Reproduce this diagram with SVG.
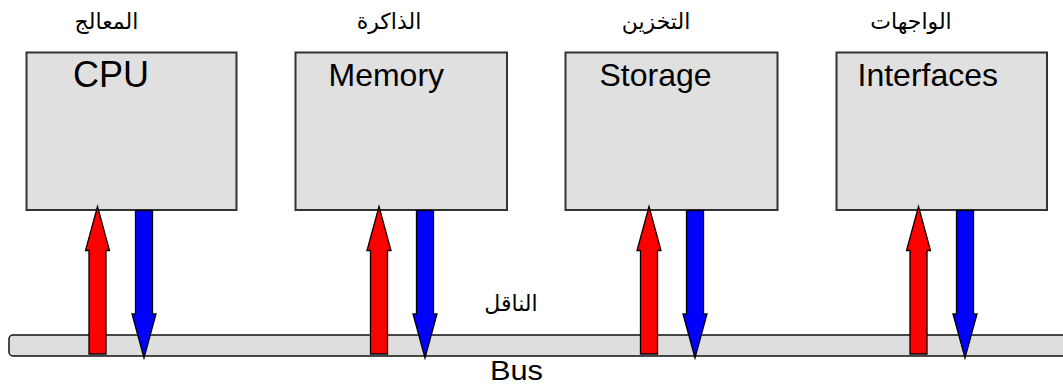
<svg xmlns="http://www.w3.org/2000/svg" xmlns:xlink="http://www.w3.org/1999/xlink" width="1063" height="387" viewBox="0 0 1063 387">
<style>
.box{fill:#e0e0e0;stroke:#333;stroke-width:2}
.bus{fill:#dedede;stroke:#111;stroke-width:1.5}
.up{fill:#ff0000;stroke:#000;stroke-width:1.3;stroke-linejoin:miter}
.down{fill:#0000ff;stroke:#000;stroke-width:1.3;stroke-linejoin:miter}
.en{font-family:"Liberation Sans",Arial,sans-serif;fill:#000}
.ar{font-family:"DejaVu Sans","Noto Sans",sans-serif;font-size:22px;fill:#000;text-anchor:middle}
</style>
<defs>
<path id="upArrow" d="M0,206.5 L12,250.5 L8.5,250.5 L8.5,354 L-8.5,354 L-8.5,250.5 L-12,250.5 Z"/>
<path id="downArrow" d="M-8.5,210.5 L8.5,210.5 L8.5,314 L12,314 L0,358 L-12,314 L-8.5,314 Z"/>
</defs>
<rect width="1063" height="387" fill="#fff"/>
<g id="bus">
<rect class="bus" x="9" y="335" width="1070" height="21" rx="4"/>
<text class="ar" x="511" y="311">الناقل</text>
<text class="en" x="490" y="380" font-size="28" textLength="53" lengthAdjust="spacingAndGlyphs">Bus</text>
</g>
<g id="cpu">
<rect class="box" x="26.5" y="52.5" width="210" height="157.5"/>
<text class="en" x="73" y="87" font-size="36">CPU</text>
<text class="ar" x="106.5" y="29">المعالج</text>
</g>
<g id="memory">
<rect class="box" x="295.5" y="52.5" width="211.5" height="157.5"/>
<text class="en" x="328.5" y="86" font-size="32">Memory</text>
<text class="ar" x="389" y="29">الذاكرة</text>
</g>
<g id="storage">
<rect class="box" x="565.5" y="52.5" width="212" height="157.5"/>
<text class="en" x="599.5" y="86" font-size="32">Storage</text>
<text class="ar" x="656" y="29">التخزين</text>
</g>
<g id="interfaces">
<rect class="box" x="836.5" y="52.5" width="210.5" height="157.5"/>
<text class="en" x="857.5" y="86" font-size="32">Interfaces</text>
<text class="ar" x="911" y="29">الواجهات</text>
</g>
<g id="connectors">
<use xlink:href="#upArrow" class="up" x="97.5"/>
<use xlink:href="#downArrow" class="down" x="144"/>
<use xlink:href="#upArrow" class="up" x="379"/>
<use xlink:href="#downArrow" class="down" x="425"/>
<use xlink:href="#upArrow" class="up" x="649"/>
<use xlink:href="#downArrow" class="down" x="695"/>
<use xlink:href="#upArrow" class="up" x="918.5"/>
<use xlink:href="#downArrow" class="down" x="965"/>
</g>
</svg>
